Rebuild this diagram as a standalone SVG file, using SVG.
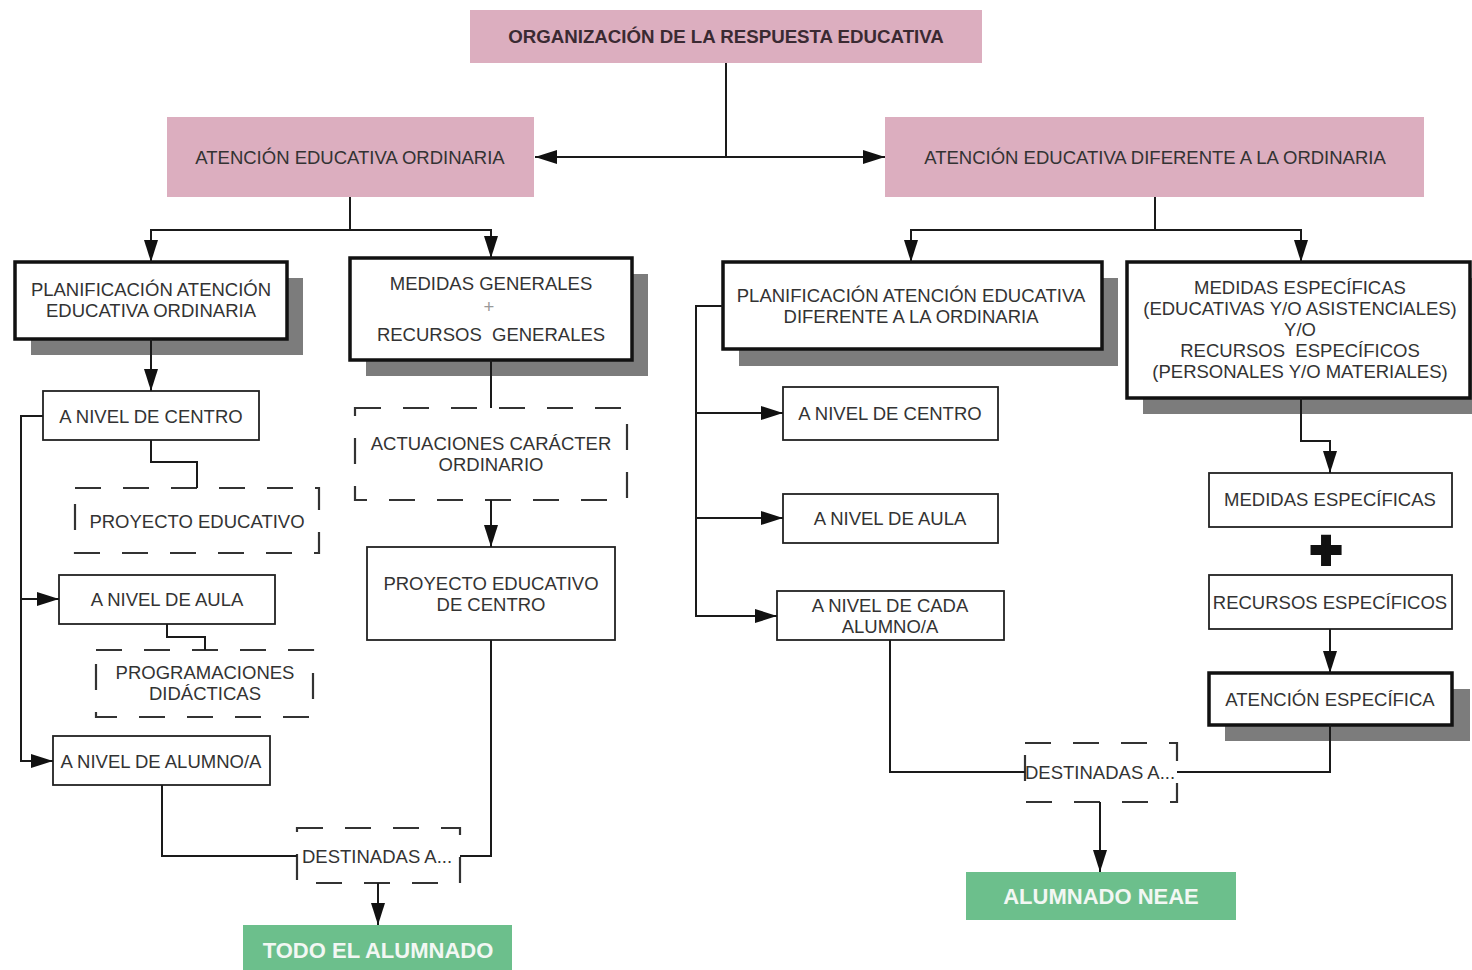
<svg xmlns="http://www.w3.org/2000/svg" width="1472" height="970" viewBox="0 0 1472 970">
<defs>
<marker id="ah" markerWidth="22" markerHeight="14" refX="22" refY="7" orient="auto" markerUnits="userSpaceOnUse"><path d="M0,0 L22,7 L0,14 z" fill="#111"/></marker>
<style>
text{font-family:"Liberation Sans",Arial,sans-serif;font-size:18.5px;fill:#333;text-anchor:middle}
.t{font-weight:bold;fill:#3a2a32;font-size:18.7px}
.g{font-weight:bold;font-size:22px;fill:#f2f7f3}
.pink{fill:#dcaebf}
.green{fill:#6cbf8c}
.sh{fill:#7c7c7c}
.thick{fill:#fff;stroke:#111;stroke-width:3.5}
.thin{fill:#fff;stroke:#222;stroke-width:1.8}
.dash{fill:#fff;stroke:#333;stroke-width:2.2;stroke-dasharray:26 22}
.c{fill:none;stroke:#1a1a1a;stroke-width:2}
.ca{fill:none;stroke:#1a1a1a;stroke-width:2;marker-end:url(#ah)}
</style>
</defs>
<rect width="1472" height="970" fill="#fff"/>

<g id="title"><rect class="pink" x="470" y="10" width="512" height="53"/><text class="t" x="726" y="43">ORGANIZACIÓN DE LA RESPUESTA EDUCATIVA</text></g>
<g id="ordinaria"><rect class="pink" x="167" y="117" width="367" height="80"/><text x="350" y="163.5">ATENCIÓN EDUCATIVA ORDINARIA</text></g>
<g id="diferente"><rect class="pink" x="885" y="117" width="539" height="80"/><text x="1155" y="163.5">ATENCIÓN EDUCATIVA DIFERENTE A LA ORDINARIA</text></g>

<g id="planif-ord"><rect class="sh" x="31" y="278" width="272" height="77"/><rect class="thick" x="15" y="262" width="272" height="77"/><text x="151" y="295.5">PLANIFICACIÓN ATENCIÓN</text><text x="151" y="316.5">EDUCATIVA ORDINARIA</text></g>
<g id="medidas-gen"><rect class="sh" x="366" y="274" width="282" height="102"/><rect class="thick" x="350" y="258" width="282" height="102"/><text x="491" y="289.5">MEDIDAS GENERALES</text><text x="489" y="312.5" style="fill:#999">+</text><text x="491" y="340.5">RECURSOS&#160; GENERALES</text></g>
<g id="actuaciones"><rect class="dash" x="355" y="408" width="272" height="92"/><text x="491" y="449.5">ACTUACIONES CARÁCTER</text><text x="491" y="470.5">ORDINARIO</text></g>
<g id="proyecto-centro"><rect class="thin" x="367" y="547" width="248" height="93"/><text x="491" y="589.5">PROYECTO EDUCATIVO</text><text x="491" y="610.5">DE CENTRO</text></g>

<g id="centro-l"><rect class="thin" x="43" y="391" width="216" height="49"/><text x="151" y="422.5">A NIVEL DE CENTRO</text></g>
<g id="proyecto-ed"><rect class="dash" x="75" y="488" width="244" height="65"/><text x="197" y="527.5">PROYECTO EDUCATIVO</text></g>
<g id="aula-l"><rect class="thin" x="59" y="575" width="216" height="49"/><text x="167" y="605.5">A NIVEL DE AULA</text></g>
<g id="programaciones"><rect class="dash" x="96" y="650" width="217" height="67"/><text x="205" y="678.5">PROGRAMACIONES</text><text x="205" y="699.5">DIDÁCTICAS</text></g>
<g id="alumno-l"><rect class="thin" x="53" y="736" width="217" height="49"/><text x="161" y="767.5">A NIVEL DE ALUMNO/A</text></g>
<g id="destinadas-l"><rect class="dash" x="297" y="828" width="163" height="55"/><text x="302" y="862.5" style="text-anchor:start">DESTINADAS A...</text></g>
<g id="todo"><rect class="green" x="243" y="925" width="269" height="50"/><text class="g" x="378" y="958">TODO EL ALUMNADO</text></g>

<g id="planif-dif"><rect class="sh" x="739" y="278" width="379" height="88"/><rect class="thick" x="723" y="262" width="379" height="87"/><text x="911" y="301.5">PLANIFICACIÓN ATENCIÓN EDUCATIVA</text><text x="911" y="322.5">DIFERENTE A LA ORDINARIA</text></g>
<g id="centro-r"><rect class="thin" x="783" y="387" width="215" height="53"/><text x="890" y="419.5">A NIVEL DE CENTRO</text></g>
<g id="aula-r"><rect class="thin" x="783" y="494" width="215" height="49"/><text x="890" y="524.5">A NIVEL DE AULA</text></g>
<g id="cada-r"><rect class="thin" x="777" y="591" width="227" height="49"/><text x="890" y="611.5">A NIVEL DE CADA</text><text x="890" y="632.5">ALUMNO/A</text></g>
<g id="destinadas-r"><rect class="dash" x="1025" y="743" width="152" height="59"/><text x="1025" y="778.5" style="text-anchor:start">DESTINADAS A...</text></g>
<g id="neae"><rect class="green" x="966" y="872" width="270" height="48"/><text class="g" x="1101" y="904">ALUMNADO NEAE</text></g>

<g id="medidas-esp-big"><rect class="sh" x="1143" y="278" width="345" height="136"/><rect class="thick" x="1127" y="262" width="343" height="136"/><text x="1300" y="293.5">MEDIDAS ESPECÍFICAS</text><text x="1300" y="314.5">(EDUCATIVAS Y/O ASISTENCIALES)</text><text x="1300" y="335.5">Y/O</text><text x="1300" y="356.5">RECURSOS&#160; ESPECÍFICOS</text><text x="1300" y="377.5">(PERSONALES Y/O MATERIALES)</text></g>
<g id="medidas-esp"><rect class="thin" x="1209" y="473" width="243" height="54"/><text x="1330" y="505.5">MEDIDAS ESPECÍFICAS</text></g>
<g id="plus"><text x="1326" y="568" style="font-size:54px;font-weight:bold;fill:#111;stroke:#111;stroke-width:4">+</text></g>
<g id="recursos-esp"><rect class="thin" x="1209" y="575" width="243" height="54"/><text x="1330" y="608.5">RECURSOS ESPECÍFICOS</text></g>
<g id="atencion-esp"><rect class="sh" x="1225" y="689" width="245" height="52"/><rect class="thick" x="1209" y="673" width="243" height="52"/><text x="1330" y="705.5">ATENCIÓN ESPECÍFICA</text></g>

<g id="connectors">
<path class="c" d="M726,63 V157"/>
<path class="ca" d="M726,157 H535"/>
<path class="ca" d="M726,157 H885"/>
<path class="ca" d="M350,197 V230 H151 V262"/>
<path class="ca" d="M350,230 H491 V258"/>
<path class="ca" d="M151,339 V391"/>
<path class="c" d="M151,440 V462 H197 V488"/>
<path class="ca" d="M43,416 H21 V761 H53"/>
<path class="ca" d="M21,599 H59"/>
<path class="c" d="M167,624 V637 H205 V650"/>
<path class="c" d="M162,785 V856 H297"/>
<path class="c" d="M491,360 V408"/>
<path class="ca" d="M491,500 V547"/>
<path class="c" d="M491,640 V856 H460"/>
<path class="ca" d="M378,883 V925"/>
<path class="ca" d="M1155,197 V230 H911 V262"/>
<path class="ca" d="M1155,230 H1301 V262"/>
<path class="ca" d="M723,306 H696 V616 H777"/>
<path class="ca" d="M696,413 H783"/>
<path class="ca" d="M696,518 H783"/>
<path class="c" d="M890,640 V772 H1025"/>
<path class="c" d="M1330,725 V772 H1177"/>
<path class="ca" d="M1100,802 V872"/>
<path class="ca" d="M1301,398 V441 H1330 V473"/>
<path class="ca" d="M1330,629 V673"/>
</g>
</svg>
